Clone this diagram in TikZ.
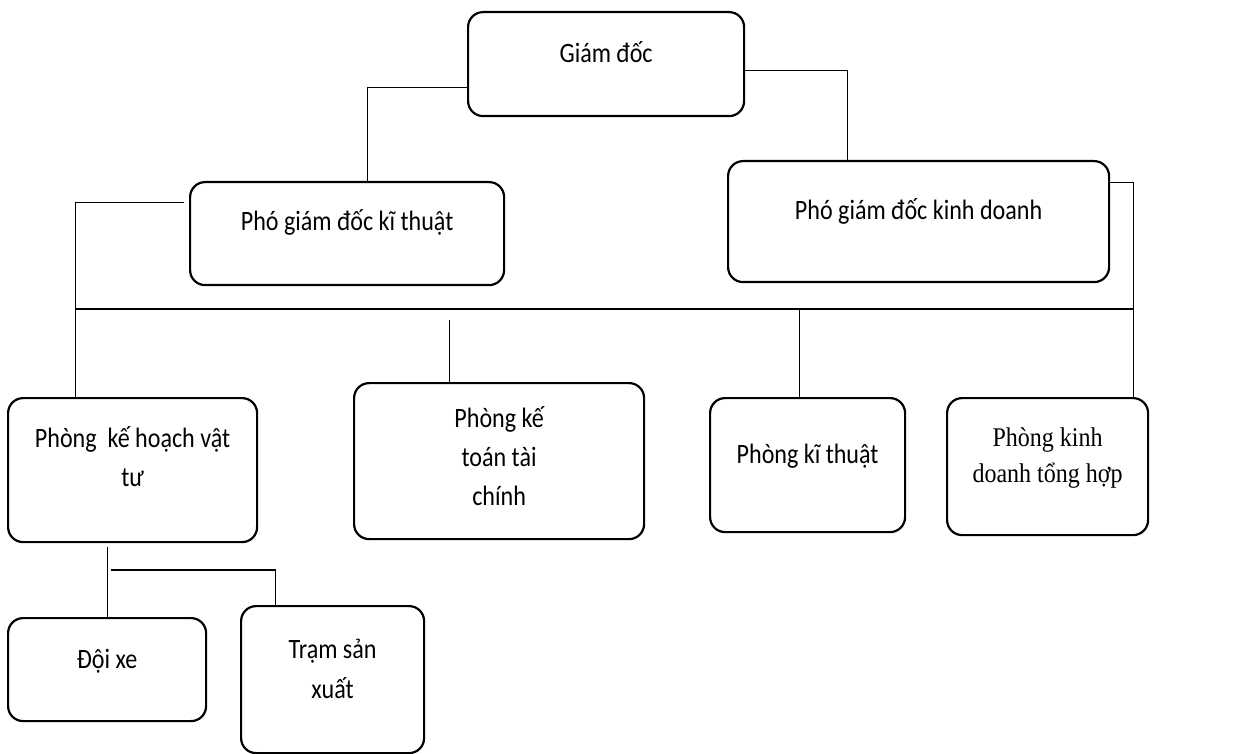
\documentclass[tikz,border=0pt]{standalone}
\usepackage{fontspec}
\setmainfont{Carlito}[FakeStretch=0.86]
\newfontfamily\timesfont{Liberation Serif}[FakeStretch=0.89]
\usetikzlibrary{positioning}

\begin{document}
\begin{tikzpicture}[x=1pt, y=-1pt,
  box/.style={draw, line width=2.2pt, rounded corners=15pt, anchor=north west, inner sep=0pt, align=center, font=\fontsize{28}{39}\selectfont},
  link/.style={draw, line width=1.1pt}]
\useasboundingbox (0,0) rectangle (1259,754);
% boxes
\node[box,minimum width=276pt,text height=50pt,text depth=54pt] (gd) at (467,11) {Giám đốc};
\node[box,minimum width=314pt,text height=48pt,text depth=55pt] (pgdkt) at (189,181) {Phó giám đốc kĩ thuật};
\node[box,minimum width=381pt,text height=58pt,text depth=63pt] (pgdkd) at (727,160) {Phó giám đốc kinh doanh};
\node[box,minimum width=249pt,text height=88pt,text depth=56pt] (pkh) at (7,397) {Phòng\ \ kế hoạch vật\\tư};
\node[box,minimum width=290pt,text height=122pt,text depth=34pt] (pkt) at (353,382) {Phòng kế\\toán tài\\chính};
\node[box,minimum width=195pt,text height=65pt,text depth=69pt] (pkthuat) at (709,397) {Phòng kĩ thuật};
\node[box,minimum width=201pt,text height=84pt,text depth=53pt,font=\timesfont\fontsize{27}{36}\selectfont] (pkd) at (946,397) {Phòng kinh\\doanh tổng hợp};
\node[box,minimum width=198pt,text height=50pt,text depth=53pt] (dx) at (7,617) {Đội xe};
\node[box,minimum width=183pt,text height=92pt,text depth=55pt,font=\fontsize{28}{40}\selectfont] (tram) at (240,605) {Trạm sản\\xuất};
% connectors
\coordinate (busL) at (74.5,309);
\coordinate (busR) at (1132.5,309);
\coordinate (split) at (111,570);
\draw[link] ([yshift=-23pt]gd.west) -| ([xshift=20pt]pgdkt.north);
\draw[link] ([yshift=-6pt]gd.east) -| ([xshift=-71pt]pgdkd.north);
\draw[link] ([xshift=-5pt,yshift=31pt]pgdkt.west) -| ([xshift=-57pt]pkh.north);
\draw[link] ([yshift=39pt]pgdkd.east) -| ([xshift=86pt]pkd.north);
\draw[link] (busL) -- (busR);
\draw[link] ([xshift=-50pt]pkt.north) -- ++(0,-62);
\draw[link] ([xshift=-8pt]pkthuat.north) -- ++(0,-88);
\draw[link] (dx.north) -- ++(0,-70);
\draw[link] ([xshift=-57pt]tram.north) |- (split);
\end{tikzpicture}
\end{document}
